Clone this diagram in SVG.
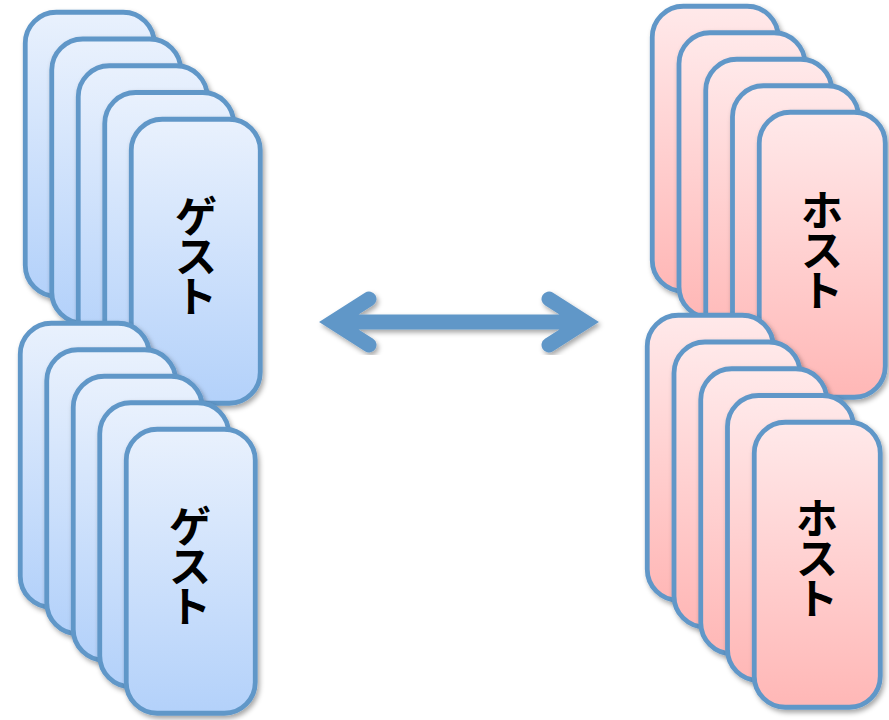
<svg xmlns="http://www.w3.org/2000/svg" width="889" height="720" viewBox="0 0 889 720">
  <defs>
    <linearGradient id="gBlue" x1="0" y1="0" x2="0" y2="1">
      <stop offset="0" stop-color="#E9F1FD"/>
      <stop offset="1" stop-color="#B3D1FA"/>
    </linearGradient>
    <linearGradient id="gPink" x1="0" y1="0" x2="0" y2="1">
      <stop offset="0" stop-color="#FFE9EA"/>
      <stop offset="1" stop-color="#FFB7B6"/>
    </linearGradient>
    <filter id="sh" x="-20%" y="-20%" width="140%" height="140%">
      <feDropShadow dx="2" dy="3" stdDeviation="2.5" flood-color="#000" flood-opacity="0.35"/>
    </filter>
  </defs>
  <style>
    .card { stroke: #6197C8; stroke-width: 4.8; filter: url(#sh); }
    .blue { fill: url(#gBlue); }
    .pink { fill: url(#gPink); }
    .lbl { font-family: "Noto Sans CJK JP", "Noto Sans", sans-serif; font-weight: bold; font-size: 42px; fill: #000; text-anchor: middle; dominant-baseline: central; }
    .arrow { fill: none; stroke: #6197C8; stroke-width: 15; filter: url(#sh); }
  </style>

  <g id="guest-top">
    <rect class="card blue" x="25.25" y="12.25" width="129" height="284" rx="31"/>
    <rect class="card blue" x="51.75" y="39" width="129" height="284" rx="31"/>
    <rect class="card blue" x="78.25" y="65.75" width="129" height="284" rx="31"/>
    <rect class="card blue" x="104.75" y="92.5" width="129" height="284" rx="31"/>
    <rect class="card blue" x="131.25" y="119.25" width="129" height="284" rx="31"/>
    <text class="lbl"><tspan x="196" y="213">ゲ</tspan><tspan x="196" y="253">ス</tspan><tspan x="196" y="293">ト</tspan></text>
  </g>

  <g id="guest-bottom">
    <rect class="card blue" x="20.25" y="323.25" width="129" height="284" rx="31"/>
    <rect class="card blue" x="46.75" y="349.75" width="129" height="284" rx="31"/>
    <rect class="card blue" x="73.25" y="376.25" width="129" height="284" rx="31"/>
    <rect class="card blue" x="99.75" y="402.75" width="129" height="284" rx="31"/>
    <rect class="card blue" x="126.25" y="429.25" width="129" height="284" rx="31"/>
    <text class="lbl"><tspan x="190" y="523">ゲ</tspan><tspan x="190" y="563">ス</tspan><tspan x="190" y="603">ト</tspan></text>
  </g>

  <g id="host-top">
    <rect class="card pink" x="652.25" y="6.25" width="126" height="285" rx="31"/>
    <rect class="card pink" x="679" y="32.75" width="126" height="285" rx="31"/>
    <rect class="card pink" x="705.75" y="59.25" width="126" height="285" rx="31"/>
    <rect class="card pink" x="732.5" y="85.75" width="126" height="285" rx="31"/>
    <rect class="card pink" x="759.25" y="112.25" width="126" height="285" rx="31"/>
    <text class="lbl"><tspan x="822" y="207">ホ</tspan><tspan x="822" y="247">ス</tspan><tspan x="822" y="287">ト</tspan></text>
  </g>

  <g id="host-bottom">
    <rect class="card pink" x="647.25" y="315.25" width="126" height="285" rx="31"/>
    <rect class="card pink" x="674" y="342" width="126" height="285" rx="31"/>
    <rect class="card pink" x="700.75" y="368.75" width="126" height="285" rx="31"/>
    <rect class="card pink" x="727.5" y="395.5" width="126" height="285" rx="31"/>
    <rect class="card pink" x="754.25" y="422.25" width="126" height="285" rx="31"/>
    <text class="lbl"><tspan x="817" y="515">ホ</tspan><tspan x="817" y="555">ス</tspan><tspan x="817" y="595">ト</tspan></text>
  </g>

  <g id="connectors">
    <path class="arrow" d="M334,322 L584,322 M369,299 L333,322 L369,345 M549,299 L585,322 L549,345" stroke-linecap="round" stroke-linejoin="miter"/>
  </g>
</svg>
